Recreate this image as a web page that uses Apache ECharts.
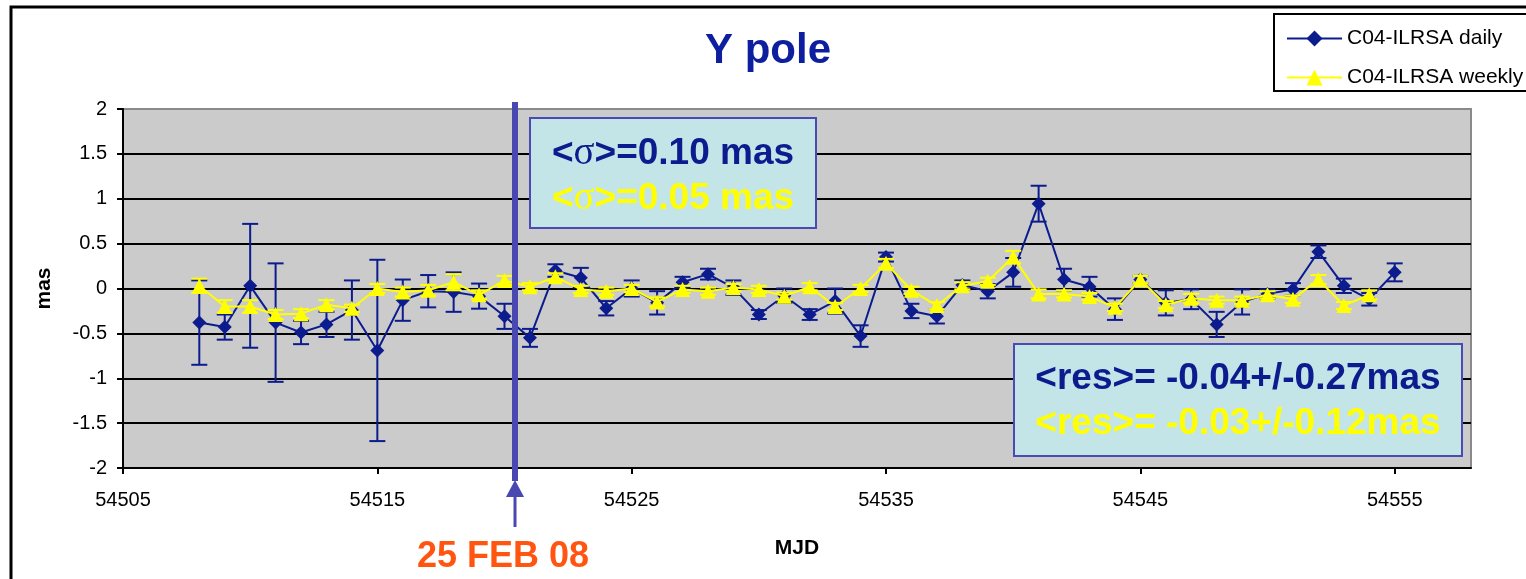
<!DOCTYPE html>
<html>
<head>
<meta charset="utf-8">
<script src="https://cdn.jsdelivr.net/npm/echarts@6/dist/echarts.min.js"></script>
<style>
html,body{margin:0;padding:0;background:#fff;}
#c{width:1526px;height:579px;}
</style>
</head>
<body>
<div id="c"></div>
<script>
// ---- data ----
const xTicks = [54505, 54515, 54525, 54535, 54545, 54555];
const yTicks = [-2, -1.5, -1, -0.5, 0, 0.5, 1, 1.5, 2];

const dailyDays = [54508,54509,54510,54511,54512,54513,54514,54515,54516,54517,54518,54519,54520,54521,54522,54523,54524,54525,54526,54527,54528,54529,54530,54531,54532,54533,54534,54535,54536,54537,54538,54539,54540,54541,54542,54543,54544,54545,54546,54547,54548,54549,54550,54551,54552,54553,54554,54555];
const dailyValues = [-0.38,-0.43,0.03,-0.38,-0.49,-0.40,-0.24,-0.69,-0.13,-0.03,-0.04,-0.085,-0.31,-0.55,0.20,0.12,-0.22,0.00,-0.16,0.07,0.16,0.01,-0.29,-0.08,-0.29,-0.14,-0.53,0.35,-0.25,-0.31,0.04,-0.03,0.18,0.945,0.10,0.02,-0.23,0.10,-0.16,-0.12,-0.40,-0.15,-0.06,-0.01,0.41,0.03,-0.12,0.18];
const dailyErrors = [0.47,0.14,0.69,0.66,0.13,0.14,0.33,1.01,0.23,0.18,0.22,0.14,0.14,0.10,0.07,0.11,0.08,0.09,0.13,0.06,0.06,0.08,0.05,0.08,0.06,0.14,0.12,0.05,0.08,0.08,0.05,0.08,0.16,0.20,0.12,0.11,0.12,0.04,0.14,0.11,0.14,0.14,0.05,0.07,0.07,0.08,0.07,0.10];

const weeklyDays = [54508,54509,54510,54511,54512,54513,54514,54515,54516,54517,54518,54519,54520,54521,54522,54523,54524,54525,54526,54527,54528,54529,54530,54531,54532,54533,54534,54535,54536,54537,54538,54539,54540,54541,54542,54543,54544,54545,54546,54547,54548,54549,54550,54551,54552,54553,54554];
const weeklyValues = [0.03,-0.20,-0.20,-0.29,-0.28,-0.18,-0.22,0.00,-0.04,-0.02,0.07,-0.07,0.09,0.02,0.13,-0.01,-0.03,0.00,-0.15,-0.01,-0.03,0.01,-0.01,-0.085,0.02,-0.20,0.00,0.28,-0.02,-0.19,0.03,0.08,0.35,-0.06,-0.06,-0.09,-0.21,0.10,-0.18,-0.11,-0.13,-0.13,-0.07,-0.12,0.10,-0.19,-0.07];
const weeklyErrors = [0.08,0.07,0.07,0.05,0.05,0.05,0.04,0.05,0.05,0.06,0.09,0.05,0.05,0.04,0.04,0.04,0.04,0.04,0.05,0.04,0.04,0.04,0.04,0.04,0.04,0.04,0.04,0.05,0.04,0.04,0.04,0.04,0.07,0.05,0.04,0.04,0.04,0.04,0.04,0.05,0.04,0.04,0.04,0.04,0.05,0.04,0.05];

const seriesNames = ['C04-ILRSA daily', 'C04-ILRSA weekly'];
const titleText = 'Y pole';
const sigmaTexts = ['<{s|σ}>=0.10 mas', '<{s|σ}>=0.05 mas'];
const resTexts = ['<res>= -0.04+/-0.27mas', '<res>= -0.03+/-0.12mas'];
const eventLabel = '25 FEB 08';

// ---- chart ----
const NAVY = '#0c1c8e';
const YELLOW = '#ffff00';
const FONT = '"Liberation Sans", Arial, sans-serif';

const dailyPts = dailyDays.map((d, i) => [d, dailyValues[i]]);
const dailyErr = dailyDays.map((d, i) => [d, dailyValues[i], dailyErrors[i]]);
const weeklyPts = weeklyDays.map((d, i) => [d, weeklyValues[i]]);
const weeklyErr = weeklyDays.map((d, i) => [d, weeklyValues[i], weeklyErrors[i]]);

function errRender(color) {
  return function (params, api) {
    const x = api.value(0), y = api.value(1), e = api.value(2);
    const t = api.coord([x, y + e]);
    const b = api.coord([x, y - e]);
    const hw = 8;
    const st = { stroke: color, lineWidth: 2 };
    return {
      type: 'group',
      children: [
        { type: 'line', shape: { x1: t[0], y1: t[1], x2: b[0], y2: b[1] }, style: st },
        { type: 'line', shape: { x1: t[0] - hw, y1: t[1], x2: t[0] + hw, y2: t[1] }, style: st },
        { type: 'line', shape: { x1: b[0] - hw, y1: b[1], x2: b[0] + hw, y2: b[1] }, style: st }
      ]
    };
  };
}

const chart = echarts.init(document.getElementById('c'), null, { renderer: 'canvas' });

const option = {
  backgroundColor: '#ffffff',
  animation: false,
  textStyle: { fontFamily: FONT },
  title: {
    text: titleText,
    left: 763, top: 25, textAlign: 'center',
    textStyle: { fontSize: 42, fontWeight: 'bold', color: '#0d1f9e', fontFamily: FONT }
  },
  legend: {
    data: seriesNames,
    orient: 'vertical',
    left: 1281, top: 23,
    itemWidth: 55, itemHeight: 20, itemGap: 18,
    textStyle: { fontSize: 21, color: '#000', fontFamily: FONT, lineHeight: 21 },
    z: 20
  },
  grid: {
    left: 123, right: 55, top: 109, bottom: 111,
    show: true, backgroundColor: '#cbcbcb', borderColor: '#8a8a8a', borderWidth: 2
  },
  xAxis: {
    type: 'value', min: 54505, max: 54558,
    name: 'MJD', nameLocation: 'middle', nameGap: 70,
    nameTextStyle: { fontSize: 21, fontWeight: 'bold', color: '#000', fontFamily: FONT },
    axisLine: { show: true, onZero: false, lineStyle: { color: '#000', width: 2 } },
    axisTick: { show: true, length: 6, lineStyle: { color: '#000', width: 2 }, customValues: xTicks },
    axisLabel: { customValues: xTicks, fontSize: 20, color: '#000', margin: 22, fontFamily: FONT,
      formatter: v => String(v) },
    splitLine: { show: false }
  },
  yAxis: {
    type: 'value', min: -2, max: 2, interval: 0.5,
    name: 'mas', nameLocation: 'middle', nameGap: 68, nameRotate: 90,
    nameTextStyle: { fontSize: 21, fontWeight: 'bold', color: '#000', fontFamily: FONT },
    axisLine: { show: true, lineStyle: { color: '#000', width: 2 } },
    axisTick: { show: true, length: 6, lineStyle: { color: '#000', width: 2 } },
    axisLabel: { fontSize: 20, color: '#000', margin: 16, fontFamily: FONT,
      formatter: v => String(v) },
    splitLine: { show: true, lineStyle: { color: ['#000','#000','#000','#000','#000','#000','#000','#000','#8a8a8a'], width: 2 } }
  },
  series: [
    {
      type: 'custom', name: 'dailyErr', data: dailyErr, renderItem: errRender(NAVY),
      encode: { x: 0, y: [1, 2] }, z: 3, silent: true
    },
    {
      type: 'line', name: seriesNames[0], data: dailyPts,
      symbol: 'diamond', symbolSize: 14,
      lineStyle: { color: NAVY, width: 2 },
      itemStyle: { color: NAVY },
      z: 4
    },
    {
      type: 'custom', name: 'weeklyErr', data: weeklyErr, renderItem: errRender(YELLOW),
      encode: { x: 0, y: [1, 2] }, z: 5, silent: true
    },
    {
      type: 'line', name: seriesNames[1], data: weeklyPts,
      symbol: 'triangle', symbolSize: 15,
      lineStyle: { color: YELLOW, width: 2 },
      itemStyle: { color: YELLOW },
      z: 6
    }
  ],
  graphic: [
    // outer chart frame
    { type: 'rect', shape: { x: 11, y: 7, width: 1600, height: 700 },
      style: { fill: 'none', stroke: '#000', lineWidth: 3 }, z: 1, silent: true },
    // legend box
    { type: 'rect', shape: { x: 1274, y: 14, width: 260, height: 77 },
      style: { fill: '#fff', stroke: '#000', lineWidth: 2 }, z: 1, silent: true },
    // sigma box
    { type: 'rect', shape: { x: 530, y: 118, width: 286, height: 110 },
      style: { fill: '#c4e5e8', stroke: '#4a4ab4', lineWidth: 2 }, z: 50, silent: true },
    { type: 'text', x: 673, y: 154, z: 51, silent: true,
      style: { text: sigmaTexts[0], fill: NAVY, font: 'bold 37px ' + FONT, align: 'center', verticalAlign: 'middle',
        rich: { s: { fontFamily: '"Liberation Serif", serif', fontSize: 39, fontWeight: 'normal', fill: NAVY } } } },
    { type: 'text', x: 673, y: 199, z: 51, silent: true,
      style: { text: sigmaTexts[1], fill: YELLOW, font: 'bold 37px ' + FONT, align: 'center', verticalAlign: 'middle',
        rich: { s: { fontFamily: '"Liberation Serif", serif', fontSize: 39, fontWeight: 'normal', fill: YELLOW } } } },
    // res box
    { type: 'rect', shape: { x: 1014, y: 344, width: 448, height: 112 },
      style: { fill: '#c4e5e8', stroke: '#4a4ab4', lineWidth: 2 }, z: 50, silent: true },
    { type: 'text', x: 1238, y: 379, z: 51, silent: true,
      style: { text: resTexts[0], fill: NAVY, font: 'bold 37px ' + FONT, align: 'center', verticalAlign: 'middle' } },
    { type: 'text', x: 1238, y: 424, z: 51, silent: true,
      style: { text: resTexts[1], fill: YELLOW, font: 'bold 37px ' + FONT, align: 'center', verticalAlign: 'middle' } },
    // event marker line + arrow
    { type: 'line', shape: { x1: 515, y1: 102, x2: 515, y2: 481 },
      style: { stroke: '#4848b0', lineWidth: 6 }, z: 40, silent: true },
    { type: 'polygon', shape: { points: [[515, 480], [506, 497], [524, 497]] },
      style: { fill: '#4848b0' }, z: 40, silent: true },
    { type: 'line', shape: { x1: 515, y1: 496, x2: 515, y2: 527 },
      style: { stroke: '#4848b0', lineWidth: 3 }, z: 40, silent: true },
    { type: 'text', x: 503, y: 557, z: 41, silent: true,
      style: { text: eventLabel, fill: '#ff5511', font: 'bold 36px ' + FONT, align: 'center', verticalAlign: 'middle' } }
  ]
};
chart.setOption(option);
</script>
</body>
</html>
